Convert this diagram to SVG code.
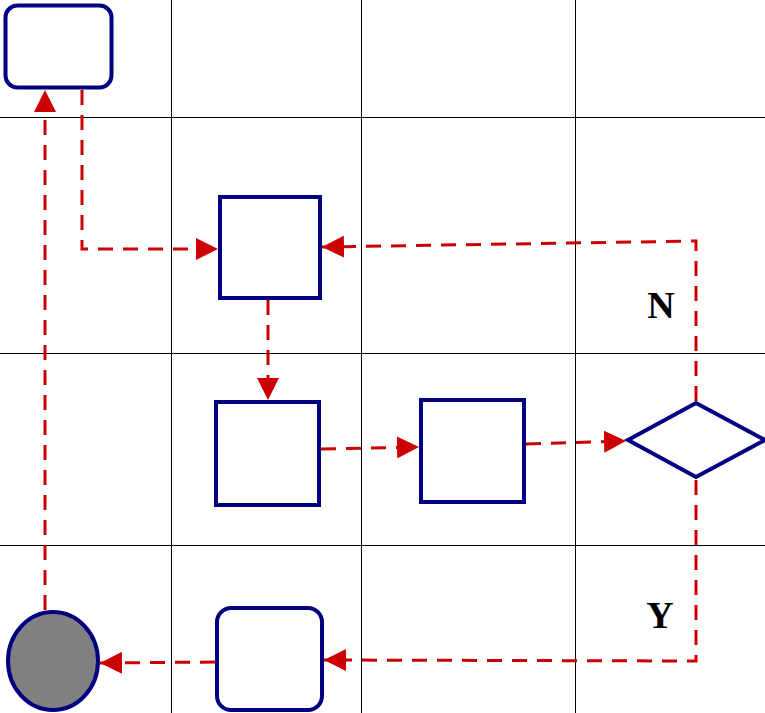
<svg xmlns="http://www.w3.org/2000/svg" width="765" height="713" viewBox="0 0 765 713">
<style>
.grid{stroke:#000;stroke-width:1;fill:none}
.node{fill:#fff;stroke:#000080;stroke-width:4}
.edge{fill:none;stroke:#cc0000;stroke-width:3;stroke-dasharray:15,10}
.lbl{font-family:"Liberation Serif",serif;font-weight:bold;font-size:38px;fill:#000}
</style>
<defs>
<marker id="ah" viewBox="0 0 22 22" refX="22" refY="11" markerWidth="22" markerHeight="22" markerUnits="userSpaceOnUse" orient="auto">
<path d="M0,0 L22,11 L0,22 Z" fill="#cc0000"/>
</marker>
</defs>
<rect width="765" height="713" fill="#fff"/>
<g id="grid">
<line class="grid" x1="171.5" y1="0" x2="171.5" y2="713"/>
<line class="grid" x1="361.5" y1="0" x2="361.5" y2="713"/>
<line class="grid" x1="575.5" y1="0" x2="575.5" y2="713"/>
<line class="grid" x1="0" y1="117.5" x2="765" y2="117.5"/>
<line class="grid" x1="0" y1="353.5" x2="765" y2="353.5"/>
<line class="grid" x1="0" y1="545.5" x2="765" y2="545.5"/>
</g>
<g id="connectors">
<path class="edge" d="M82,90 V249 H218" marker-end="url(#ah)"/>
<path class="edge" d="M696,401 V241 L322,247" marker-end="url(#ah)"/>
<path class="edge" d="M268,300 V400" marker-end="url(#ah)"/>
<path class="edge" d="M321,449 L419,447" marker-end="url(#ah)"/>
<path class="edge" d="M526,444 L626,441" marker-end="url(#ah)"/>
<path class="edge" d="M696,480 V661 L324,660" marker-end="url(#ah)"/>
<path class="edge" d="M215,662 L100,663" marker-end="url(#ah)"/>
<path class="edge" d="M45,610 V90" marker-end="url(#ah)"/>
</g>
<g id="n1"><rect class="node" x="5.5" y="5.5" width="106" height="82" rx="12"/></g>
<g id="n2"><rect class="node" x="220" y="197" width="100" height="101"/></g>
<g id="n3"><rect class="node" x="216" y="402" width="103" height="103"/></g>
<g id="n4"><rect class="node" x="421" y="400" width="103" height="102"/></g>
<g id="n5"><polygon class="node" points="628,440 696,403 765,440 696,477"/></g>
<g id="n6"><rect class="node" x="217" y="608" width="105" height="102" rx="14"/></g>
<g id="n7"><ellipse class="node" cx="53" cy="661" rx="45" ry="49" style="fill:#808080"/></g>
<g id="labels">
<text class="lbl" x="661" y="318" text-anchor="middle">N</text>
<text class="lbl" x="660" y="628" text-anchor="middle">Y</text>
</g>
</svg>
